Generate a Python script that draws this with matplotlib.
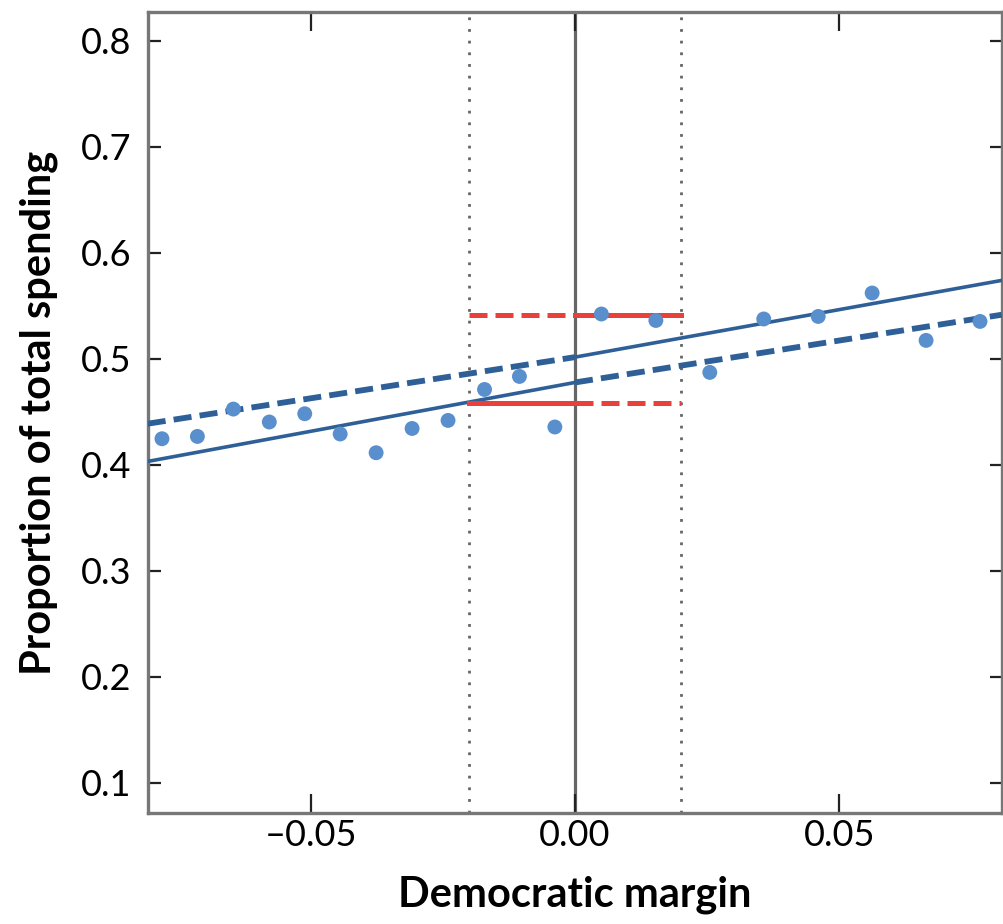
import matplotlib
matplotlib.use("Agg")
import matplotlib.pyplot as plt
from matplotlib.ticker import FormatStrFormatter

plt.rcParams['font.family'] = ['Lato', 'DejaVu Sans']

# binned means, left of the cutoff
left_x = [-0.0781, -0.0714, -0.0646, -0.0578, -0.0511, -0.0444,
          -0.0376, -0.0308, -0.0240, -0.0171, -0.0105, -0.0038]
left_y = [0.4245, 0.4267, 0.4525, 0.4403, 0.4481, 0.4290,
          0.4113, 0.4342, 0.4418, 0.4710, 0.4833, 0.4356]
# binned means, right of the cutoff
right_x = [0.0050, 0.0153, 0.0255, 0.0357, 0.0460, 0.0562, 0.0664, 0.0766]
right_y = [0.5422, 0.5361, 0.4871, 0.5375, 0.5399, 0.5620, 0.5173, 0.5352]

# fitted lines (end values)
x_lo, x_hi = -0.0808, 0.0807
solid_left = [0.4031, 0.4776]
solid_right = [0.5015, 0.5739]
dash_left = [0.4387, 0.5015]
dash_right = [0.4776, 0.5415]

band = 0.02
red_hi = 0.5415
red_lo = 0.4585

blue_line = '#2f5f97'
blue_pt = '#5a8fcd'
red = '#e8413b'

fig = plt.figure(figsize=(10.04, 9.24), dpi=100)
ax = fig.add_axes([0.1471, 0.1198, 0.8506, 0.8675])

ax.axvline(0, color='#666666', lw=2.3, zorder=1)
for xv in (-band, band):
    ax.axvline(xv, color='#666666', lw=2.0, linestyle=(0, (1, 3.2)), zorder=1)

ax.plot([x_lo, 0], solid_left, color=blue_line, lw=2.6, zorder=3)
ax.plot([0, x_hi], solid_right, color=blue_line, lw=2.6, zorder=3)
ax.plot([x_lo, 0], dash_left, color=blue_line, lw=4.2,
        linestyle=(0, (3.1, 1.4)), zorder=3)
ax.plot([0, x_hi], dash_right, color=blue_line, lw=4.2,
        linestyle=(0, (3.1, 1.4)), zorder=3)

ax.plot([-band, 0], [red_hi, red_hi], color=red, lw=3.6,
        linestyle=(0, (3.6, 1.6)), zorder=4)
ax.plot([0, band], [red_hi, red_hi], color=red, lw=3.6, zorder=4)
ax.plot([-band, 0], [red_lo, red_lo], color=red, lw=3.6, zorder=4)
ax.plot([0, band], [red_lo, red_lo], color=red, lw=3.6,
        linestyle=(0, (3.6, 1.6)), zorder=4)

ax.scatter(left_x, left_y, s=115, color=blue_pt, edgecolors='none', zorder=5)
ax.scatter(right_x, right_y, s=115, color=blue_pt, edgecolors='none', zorder=5)

ax.set_xlim(x_lo, x_hi)
ax.set_ylim(0.0711, 0.8274)
ax.set_xticks([-0.05, 0.0, 0.05])
ax.set_yticks([0.1, 0.2, 0.3, 0.4, 0.5, 0.6, 0.7, 0.8])
ax.xaxis.set_major_formatter(FormatStrFormatter('%.2f'))
ax.yaxis.set_major_formatter(FormatStrFormatter('%.1f'))
ax.set_xticklabels(['\u20130.05', '0.00', '0.05'])

for s in ax.spines.values():
    s.set_color('#777777')
    s.set_linewidth(2.4)

ax.tick_params(axis='x', direction='in', length=14, width=1.6, color='#222222',
               top=True, labelsize=26, pad=4)
ax.tick_params(axis='y', direction='in', length=9, width=1.6, color='#222222',
               right=True, labelsize=26, pad=12)

ax.set_xlabel('Democratic margin', fontsize=30, fontweight='bold', labelpad=17)
ax.set_ylabel('Proportion of total spending', fontsize=30, fontweight='bold',
              labelpad=16)

fig.savefig('out.png', dpi=100)
